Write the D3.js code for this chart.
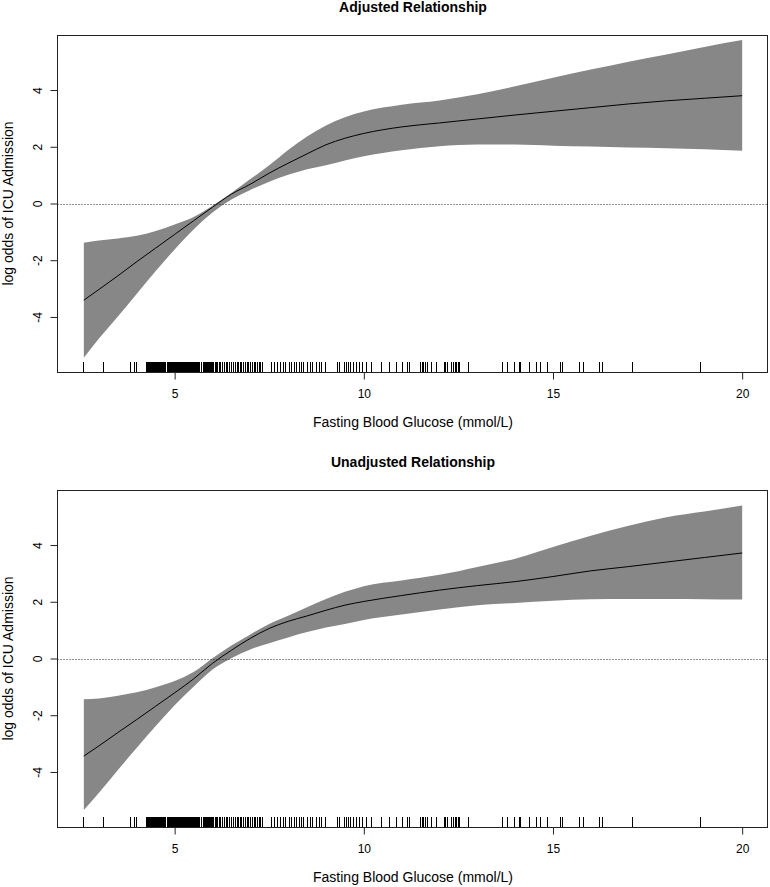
<!DOCTYPE html>
<html>
<head>
<meta charset="utf-8">
<script src="https://cdn.jsdelivr.net/npm/d3@7"></script>
<style>
  body { margin: 0; background: #fff; }
  text { font-family: "Liberation Sans", Arial, sans-serif; fill: #000; }
</style>
</head>
<body>
<div id="chart"></div>
<script>
// glucose grid the smooth was evaluated at (mmol/L)
const glucose = [2.6, 3, 3.5, 4, 4.5, 5, 5.5, 6, 6.5, 7, 7.5, 8, 8.5, 9, 9.5, 10,
  11, 12, 13, 14, 15, 16, 17, 18, 19, 20];

// adjusted model: fit and pointwise band
const adjFit = [-3.41, -3.03, -2.55, -2.05, -1.57, -1.09, -0.61, -0.13, 0.33, 0.68, 1.07, 1.42, 1.75, 2.07, 2.30, 2.47,
  2.70, 2.84, 2.98, 3.12, 3.25, 3.38, 3.51, 3.62, 3.71, 3.80];
const adjUpper = [-1.38, -1.30, -1.23, -1.14, -0.97, -0.74, -0.48, -0.08, 0.37, 0.86, 1.35, 1.89, 2.36, 2.75, 3.04, 3.24,
  3.48, 3.63, 3.85, 4.13, 4.43, 4.72, 5.00, 5.25, 5.52, 5.76];
const adjLower = [-5.44, -4.76, -3.98, -3.18, -2.38, -1.62, -0.92, -0.32, 0.14, 0.48, 0.77, 1.01, 1.21, 1.35, 1.52, 1.67,
  1.88, 2.02, 2.08, 2.08, 2.04, 2.01, 1.97, 1.95, 1.91, 1.86];

// unadjusted model
const unadjFit = [-3.44, -3.08, -2.61, -2.15, -1.68, -1.21, -0.72, -0.17, 0.29, 0.71, 1.06, 1.31, 1.50, 1.70, 1.88, 2.01,
  2.22, 2.41, 2.57, 2.71, 2.89, 3.09, 3.24, 3.40, 3.56, 3.72];
const unadjUpper = [-1.44, -1.41, -1.31, -1.19, -1.01, -0.79, -0.48, 0.01, 0.46, 0.85, 1.22, 1.51, 1.81, 2.10, 2.35, 2.55,
  2.75, 2.95, 3.23, 3.52, 3.93, 4.33, 4.68, 4.98, 5.18, 5.39];
const unadjLower = [-5.34, -4.73, -3.93, -3.15, -2.38, -1.65, -1.00, -0.39, 0.01, 0.32, 0.54, 0.74, 0.93, 1.09, 1.22, 1.36,
  1.55, 1.73, 1.88, 1.96, 2.04, 2.09, 2.10, 2.10, 2.09, 2.08];

// observed glucose values (rug)
const rugGlucose = [2.60, 3.13, 3.83, 3.94, 4.00,
  4.25, 4.28, 4.31, 4.34, 4.36, 4.39, 4.42, 4.45, 4.47, 4.50, 4.53, 4.55, 4.58,
  4.60, 4.62, 4.65, 4.67, 4.70, 4.72, 4.75, 4.77, 4.80, 4.82, 4.85, 4.87, 4.90, 4.92, 4.94,
  4.98, 5.00, 5.03, 5.05, 5.08, 5.10, 5.13, 5.15, 5.18, 5.20, 5.23,
  5.27, 5.30, 5.32, 5.35, 5.37, 5.40, 5.42, 5.45, 5.47, 5.50, 5.52, 5.55, 5.57, 5.60, 5.62,
  5.65, 5.67, 5.70, 5.72, 5.75, 5.77, 5.80, 5.82, 5.85, 5.87, 5.90, 5.92, 5.95, 5.97, 6.00,
  6.03, 6.07, 6.10, 6.14, 6.18, 6.22, 6.26, 6.31, 6.36, 6.40, 6.45, 6.50, 6.56, 6.60, 6.65,
  6.69, 6.74, 6.78, 6.83, 6.87, 6.92, 6.96, 7.01, 7.05, 7.10, 7.14, 7.19, 7.23, 7.28, 7.33,
  7.56, 7.64, 7.73, 7.79, 7.88, 7.92, 8.04, 8.10, 8.17, 8.23, 8.30, 8.36, 8.41, 8.52, 8.58,
  8.65, 8.76, 8.83, 8.89, 8.99, 9.31, 9.36, 9.49, 9.55, 9.60, 9.66, 9.73, 9.80, 9.88, 9.97,
  10.06, 10.20, 10.46, 10.68, 10.86, 11.03, 11.16, 11.21, 11.49, 11.54, 11.58, 11.63, 11.69,
  11.78, 11.91, 12.13, 12.17, 12.22, 12.31, 12.37, 12.42, 12.46, 12.51, 12.54, 12.76,
  13.67, 13.80, 13.98, 14.11, 14.15, 14.39, 14.57, 14.68, 14.86, 15.21, 15.25, 15.69, 15.81,
  16.24, 16.31, 17.10, 18.91];

const xTicks = [5, 10, 15, 20];
const yTicks = [-4, -2, 0, 2, 4];

const panels = [
  { title: 'Adjusted Relationship', fit: adjFit, lo: adjLower, hi: adjUpper },
  { title: 'Unadjusted Relationship', fit: unadjFit, lo: unadjLower, hi: unadjUpper }
];

const width = 770;
const height = 887;
const left = 57.5, right = 768.5;
const top0 = 35, plotH = 337, step = 455;

const svg = d3.select('#chart').append('svg')
  .attr('width', width)
  .attr('height', height);

const x = d3.scaleLinear().domain([1.904, 20.696]).range([left, right]);

panels.forEach((p, i) => {
  const off = i * step;
  const y = d3.scaleLinear().domain([-5.94, 5.94]).range([top0 + off + plotH, top0 + off]);
  const g = svg.append('g');

  const rows = glucose.map((v, j) => ({ x: v, fit: p.fit[j], lo: p.lo[j], hi: p.hi[j] }));

  // confidence band
  g.append('path')
    .datum(rows)
    .attr('d', d3.area()
      .x(d => x(d.x))
      .y0(d => y(d.lo))
      .y1(d => y(d.hi))
      .curve(d3.curveMonotoneX))
    .style('fill', '#878787');

  // fitted smooth
  g.append('path')
    .datum(rows)
    .attr('d', d3.line()
      .x(d => x(d.x))
      .y(d => y(d.fit))
      .curve(d3.curveMonotoneX))
    .style('fill', 'none')
    .style('stroke', '#000')
    .style('stroke-width', 1);

  // reference line at 0
  g.append('line')
    .attr('x1', left).attr('x2', right - 1)
    .attr('y1', Math.round(y(0)) + 0.5).attr('y2', Math.round(y(0)) + 0.5)
    .style('stroke', '#222')
    .style('stroke-dasharray', '1,2');

  // rug
  const yBase = top0 + off + plotH;
  g.selectAll('.rug')
    .data(rugGlucose)
    .enter()
    .append('line')
    .attr('class', 'rug')
    .attr('x1', d => x(d)).attr('x2', d => x(d))
    .attr('y1', yBase).attr('y2', yBase - 10)
    .style('stroke', '#000')
    .style('stroke-width', 1)
    .style('shape-rendering', 'crispEdges');

  // box
  g.append('rect')
    .attr('x', left).attr('y', top0 + off + 0.5)
    .attr('width', right - left - 1).attr('height', plotH)
    .style('fill', 'none')
    .style('stroke', '#222');

  // axes
  const gX = g.append('g')
    .attr('transform', 'translate(0,' + (yBase + 0.5) + ')')
    .call(d3.axisBottom(x).tickValues(xTicks).tickSize(7).tickPadding(10).tickFormat(d => String(d)));
  gX.select('.domain').remove();
  gX.selectAll('.tick line').style('stroke', '#222');
  gX.selectAll('.tick text').style('font-size', '12px').style('fill', '#000');

  const gY = g.append('g')
    .attr('transform', 'translate(' + left + ',0)')
    .call(d3.axisLeft(y).tickValues(yTicks).tickSize(7).tickFormat(d => String(d)));
  gY.select('.domain').remove();
  gY.selectAll('.tick line').style('stroke', '#222');
  gY.selectAll('.tick text')
    .attr('x', null).attr('dy', null)
    .attr('transform', 'translate(-16,0) rotate(-90)')
    .attr('text-anchor', 'middle')
    .style('font-size', '12px').style('fill', '#000');

  // titles
  g.append('text')
    .attr('x', (left + right) / 2).attr('y', 12 + off)
    .attr('text-anchor', 'middle')
    .style('font-size', '14px').style('font-weight', 'bold')
    .text(p.title);

  g.append('text')
    .attr('x', (left + right) / 2).attr('y', 427 + off)
    .attr('text-anchor', 'middle')
    .style('font-size', '14px')
    .text('Fasting Blood Glucose (mmol/L)');

  g.append('text')
    .attr('transform', 'translate(13,' + (top0 + off + plotH / 2) + ') rotate(-90)')
    .attr('text-anchor', 'middle')
    .style('font-size', '14px')
    .text('log odds of ICU Admission');
});
</script>
</body>
</html>
